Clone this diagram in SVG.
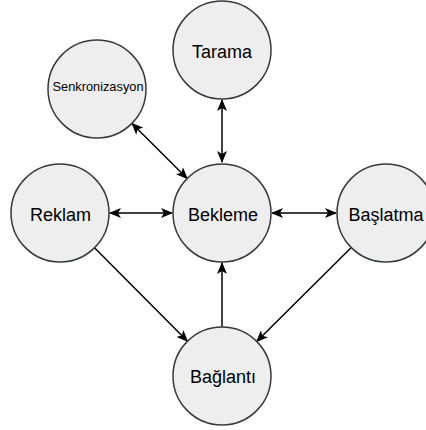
<svg xmlns="http://www.w3.org/2000/svg" width="426" height="430" viewBox="0 0 426 430">
<defs>
<marker id="ah" viewBox="0 0 12 10" refX="11" refY="5" markerWidth="12" markerHeight="10" markerUnits="userSpaceOnUse" orient="auto-start-reverse">
<path d="M0,0 L12,5 L0,10 L3,5 Z" fill="#000"/>
</marker>
<style>
.n{fill:#eeeeee;stroke:#36393d;stroke-width:1.5}
.t{font-family:"Liberation Sans",Arial,sans-serif;font-size:18px;fill:#000;text-anchor:middle}
.s{font-size:13px}
.e{stroke:#000;stroke-width:1.5;fill:none}
</style>
</defs>
<rect width="426" height="430" fill="#ffffff"/>
<g id="connectors">
<line class="e" x1="222" y1="100" x2="222" y2="162" marker-start="url(#ah)" marker-end="url(#ah)"/>
<line class="e" x1="132" y1="123.5" x2="187.2" y2="178.5" marker-start="url(#ah)" marker-end="url(#ah)"/>
<line class="e" x1="110" y1="213" x2="172" y2="213" marker-start="url(#ah)" marker-end="url(#ah)"/>
<line class="e" x1="272" y1="213" x2="336" y2="213" marker-start="url(#ah)" marker-end="url(#ah)"/>
<line class="e" x1="94.5" y1="247.7" x2="187.5" y2="341.3" marker-end="url(#ah)"/>
<line class="e" x1="351.3" y1="247.5" x2="256.7" y2="341.5" marker-end="url(#ah)"/>
<line class="e" x1="222" y1="327" x2="222" y2="263" marker-end="url(#ah)"/>
</g>
<g id="tarama"><circle class="n" cx="222" cy="50" r="49"/><text class="t" x="222" y="58">Tarama</text></g>
<g id="senkronizasyon"><circle class="n" cx="97" cy="89" r="49"/><text class="t s" x="98" y="91" textLength="91" lengthAdjust="spacingAndGlyphs">Senkronizasyon</text></g>
<g id="reklam"><circle class="n" cx="60" cy="213" r="49"/><text class="t" x="60.5" y="221">Reklam</text></g>
<g id="bekleme"><circle class="n" cx="222" cy="213" r="49"/><text class="t" x="223" y="221">Bekleme</text></g>
<g id="baslatma"><circle class="n" cx="386" cy="213" r="49"/><text class="t" x="386" y="221">Başlatma</text></g>
<g id="baglanti"><circle class="n" cx="222" cy="376" r="49"/><text class="t" x="223" y="383">Bağlantı</text></g>
</svg>
